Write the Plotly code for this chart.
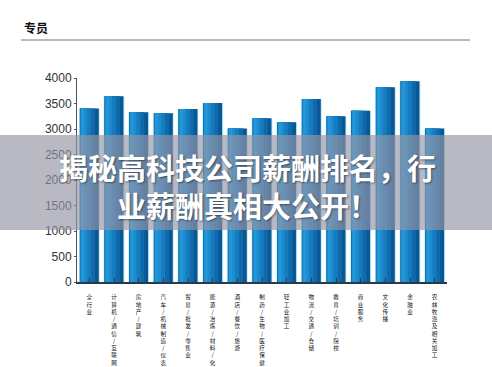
import plotly.graph_objects as go

categories = ["全行业", "计算机/通信/互联网", "房地产/建筑", "汽车/机械制造/仪表",
              "贸易/批发/零售业", "能源/冶炼/材料/化工", "酒店/餐饮/旅游",
              "制药/生物/医疗保健", "轻工业加工", "物流/交通/仓储", "教育/培训/院校",
              "商业服务", "文化传播", "金融业", "农林牧渔及相关加工"]
salaries = [3400, 3640, 3330, 3310, 3390, 3510, 3010, 3210, 3130, 3590, 3250, 3360, 3820, 3935, 3010]
y_ticks = [0, 500, 1000, 1500, 2000, 2500, 3000, 3500, 4000]

W, H = 492, 367
ML, MR, MT, MB = 77, 45, 78, 85
PW, PH = W - ML - MR, H - MT - MB

def px_x(p):
    return (p - ML) / PW

def px_y(p):
    return (H - MB - p) / PH

vert = ["<br>".join(list(c)) for c in categories]
idx = list(range(len(categories)))

fig = go.Figure()
# glow
fig.add_trace(go.Bar(x=idx, y=salaries, width=0.86, marker=dict(color="#c9f3ff", line=dict(width=0)), hoverinfo="skip"))
# gradient layers
layers = [(0.77, -0.385, "#0b5793"), (0.62, -0.385, "#1069ab"), (0.44, -0.37, "#167cc0"),
          (0.26, -0.35, "#1c8ccf"), (0.12, -0.33, "#2398d8")]
for w, off, col in layers:
    fig.add_trace(go.Bar(x=idx, y=salaries, width=w, offset=off,
                         marker=dict(color=col, line=dict(width=0)), hoverinfo="skip"))

fig.update_layout(
    width=W, height=H, barmode="overlay", showlegend=False,
    plot_bgcolor="white", paper_bgcolor="white",
    margin=dict(l=ML, r=MR, t=MT, b=MB, autoexpand=False),
    xaxis=dict(tickmode="array", tickvals=idx, ticktext=vert, tickangle=0,
               range=[-0.5, len(categories) - 0.5], showgrid=False,
               showline=True, linecolor="#2a3a48", linewidth=1.5,
               ticks="inside", tickson="boundaries", ticklen=4, tickcolor="#2a3a48",
               ticklabelstandoff=9,
               tickfont=dict(family="Noto Sans CJK SC", size=5.6, color="#111"),
               automargin=False),
    yaxis=dict(range=[0, 4000], tickvals=y_ticks, showgrid=False, zeroline=False,
               showline=True, linecolor="#555", linewidth=1,
               ticks="outside", ticklen=2, tickcolor="#555",
               tickfont=dict(family="Liberation Sans", size=12, color="#333"),
               automargin=False),
)

# header text and rule
fig.add_annotation(xref="paper", yref="paper", x=px_x(22), y=px_y(27), text="<b>专员</b>",
                   showarrow=False, xanchor="left", yanchor="middle",
                   font=dict(family="Noto Sans CJK SC", size=12, color="#111"))
fig.add_shape(type="line", xref="paper", yref="paper", x0=px_x(21), x1=px_x(470),
              y0=px_y(40), y1=px_y(40), line=dict(color="#777", width=1))

# banner overlay
fig.add_shape(type="rect", xref="paper", yref="paper", x0=px_x(0), x1=px_x(W),
              y0=px_y(230), y1=px_y(135), fillcolor="rgba(148,148,165,0.66)",
              line=dict(width=0), layer="above")
fig.add_annotation(xref="paper", yref="paper", x=px_x(247), y=px_y(186),
                   text="<b>揭秘高科技公司薪酬排名，行<br>业薪酬真相大公开！</b>",
                   showarrow=False, xanchor="center", yanchor="middle", align="center",
                   font=dict(family="Noto Sans CJK SC", size=29, color="white",
                             shadow="1px 1px 2px rgba(0,0,0,0.45)"))

fig.write_html("out.html", config={"displayModeBar": False, "staticPlot": True},
               post_script="document.body.style.margin='0';document.body.style.overflow='hidden';")
